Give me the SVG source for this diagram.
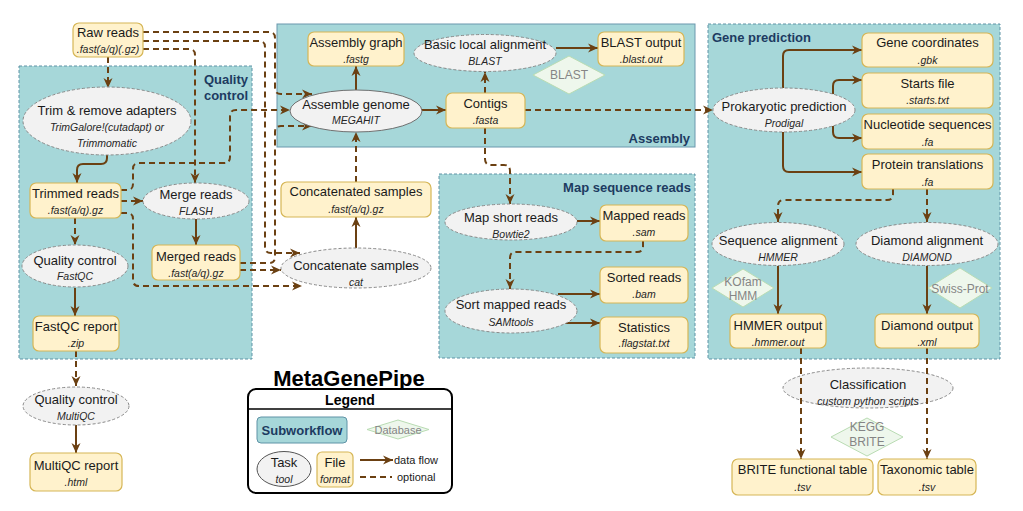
<svg xmlns="http://www.w3.org/2000/svg" width="1023" height="511" viewBox="0 0 1023 511">
<style>
.sw{fill:#a6d7d9;stroke:#5f93a6;stroke-width:1;stroke-dasharray:3 2}
.box{fill:#fff2cc;stroke:#d6b656;stroke-width:1.2}
.task{fill:#f2f2f2;stroke:#8a8a8a;stroke-width:1;stroke-dasharray:3 2}
.db{fill:#eef7ec;stroke:#b9dcb3;stroke-width:1}
text{font-family:"Liberation Sans",Arial,sans-serif;font-size:13px;fill:#1a1a1a;text-anchor:middle}
.s{font-size:10.5px;font-style:italic;fill:#262626}
.ttl{font-weight:bold;fill:#1d3b61}
.dbt{fill:#858585;font-size:12px}
.e{stroke:#6b4012;stroke-width:2;fill:none}
.d{stroke-dasharray:6 4}
</style>
<defs>
<marker id="a" markerUnits="userSpaceOnUse" markerWidth="11" markerHeight="10" refX="10" refY="5" orient="auto"><path d="M0,0.5 L10,5 L0,9.5 L3,5 z" fill="#6b4012"/></marker>
</defs>

<g id="containers">
<g id="quality-control"><rect class="sw" x="19" y="66" width="233" height="293"/><text class="ttl" x="248" y="84" style="text-anchor:end">Quality</text><text class="ttl" x="248" y="100" style="text-anchor:end">control</text></g>
<g id="assembly"><rect class="sw" x="277" y="24" width="418" height="123" style="stroke-dasharray:none;stroke:#6a98ad"/><text class="ttl" x="690" y="143" style="text-anchor:end">Assembly</text></g>
<g id="map-sequence-reads"><rect class="sw" x="439" y="174" width="256" height="184"/><text class="ttl" x="691" y="192" style="text-anchor:end">Map sequence reads</text></g>
<g id="gene-prediction"><rect class="sw" x="708" y="24" width="292" height="335"/><text class="ttl" x="712" y="42" style="text-anchor:start">Gene prediction</text></g>
</g>

<g id="classification"><ellipse class="task" cx="868" cy="388" rx="85" ry="20"/><text x="868" y="389">Classification</text><text class="s" x="868" y="405">custom python scripts</text></g>

<g id="connectors">
<path class="e d" marker-end="url(#a)" d="M108,57 V88"/>
<path class="e" marker-end="url(#a)" d="M107,155 V158 Q107,164 101,164 H83 Q77,164 77,170 V183"/>
<path class="e d" marker-end="url(#a)" d="M75,218 V245"/>
<path class="e" marker-end="url(#a)" d="M75,288 V316"/>
<path class="e d" marker-end="url(#a)" d="M76,351 V386"/>
<path class="e" marker-end="url(#a)" d="M76,425 V453"/>
<path class="e d" marker-end="url(#a)" d="M143,32 H269 Q275,32 275,38 V88 Q275,94 281,94 H312"/>
<path class="e d" marker-end="url(#a)" d="M143,41 H259 Q265,41 265,47 V247 Q265,253 271,253 H300"/>
<path class="e d" marker-end="url(#a)" d="M143,49 H189 Q195,49 195,55 V183"/>
<path class="e d" marker-end="url(#a)" d="M121,190 H127 Q133,190 133,184 V169 Q133,163 139,163 H224 Q230,163 230,157 V116 Q230,110 236,110 H290"/>
<path class="e d" marker-end="url(#a)" d="M121,201 H143"/>
<path class="e d" marker-end="url(#a)" d="M121,213 H127 Q133,213 133,219 V280 Q133,286 139,286 H302"/>
<path class="e" marker-end="url(#a)" d="M196,219 V245"/>
<path class="e d" marker-end="url(#a)" d="M240,263 H269 Q275,263 275,257 V132 Q275,126 281,126 H312"/>
<path class="e d" marker-end="url(#a)" d="M240,270 H281"/>
<path class="e" marker-end="url(#a)" d="M356,248 V217"/>
<path class="e d" marker-end="url(#a)" d="M356,182 V132"/>
<path class="e" marker-end="url(#a)" d="M356,90 V66"/>
<path class="e" marker-end="url(#a)" d="M422,110 H446"/>
<path class="e d" marker-end="url(#a)" d="M485,93 V72"/>
<path class="e" marker-end="url(#a)" d="M556,48 H598"/>
<path class="e d" marker-end="url(#a)" d="M525,110 H713"/>
<path class="e d" marker-end="url(#a)" d="M485,128 V159 Q485,165 491,165 H504 Q510,165 510,171 V204"/>
<path class="e" marker-end="url(#a)" d="M577,221 H600"/>
<path class="e d" marker-end="url(#a)" d="M643,241 V246 Q643,252 637,252 H516 Q510,252 510,258 V289"/>
<path class="e" marker-end="url(#a)" d="M558,294 H600"/>
<path class="e" marker-end="url(#a)" d="M558,323 H600"/>
<path class="e" marker-end="url(#a)" d="M783,88 V56 Q783,50 789,50 H862"/>
<path class="e" marker-end="url(#a)" d="M833,94 V86 Q833,80 839,80 H862"/>
<path class="e" marker-end="url(#a)" d="M833,126 V132 Q833,138 839,138 H862"/>
<path class="e" marker-end="url(#a)" d="M783,132 V166 Q783,172 789,172 H862"/>
<path class="e d" marker-end="url(#a)" d="M893,189 V194 Q893,200 887,200 H784 Q778,200 778,206 V222"/>
<path class="e d" marker-end="url(#a)" d="M927,189 V222"/>
<path class="e" marker-end="url(#a)" d="M778,266 V314"/>
<path class="e" marker-end="url(#a)" d="M927,266 V314"/>
<path class="e d" marker-end="url(#a)" d="M801,348 V459"/>
<path class="e d" marker-end="url(#a)" d="M927,348 V459"/>
</g>

<g id="raw-reads"><rect class="box" x="73" y="23" width="70" height="34" rx="6"/><text x="108" y="37">Raw reads</text><text class="s" x="108" y="53">.fast(a/q)(.gz)</text></g>
<g id="trim"><ellipse class="task" cx="107" cy="121" rx="84" ry="34"/><text x="107" y="115">Trim &amp; remove adapters</text><text class="s" x="107" y="131">TrimGalore!(cutadapt) or</text><text class="s" x="107" y="147">Trimmomatic</text></g>
<g id="trimmed-reads"><rect class="box" x="30" y="183" width="91" height="35" rx="6"/><text x="75.5" y="198">Trimmed reads</text><text class="s" x="75.5" y="214">.fast(a/q).gz</text></g>
<g id="fastqc"><ellipse class="task" cx="75" cy="266" rx="53" ry="21"/><text x="75" y="265">Quality control</text><text class="s" x="75" y="280">FastQC</text></g>
<g id="fastqc-report"><rect class="box" x="33" y="316" width="86" height="35" rx="6"/><text x="76" y="331">FastQC report</text><text class="s" x="76" y="347">.zip</text></g>
<g id="multiqc"><ellipse class="task" cx="76" cy="406" rx="53" ry="19"/><text x="76" y="404">Quality control</text><text class="s" x="76" y="420">MultiQC</text></g>
<g id="multiqc-report"><rect class="box" x="30" y="453" width="92" height="38" rx="6"/><text x="76" y="470">MultiQC report</text><text class="s" x="76" y="486">.html</text></g>
<g id="merge-reads"><ellipse class="task" cx="196" cy="201" rx="53" ry="18"/><text x="196" y="199">Merge reads</text><text class="s" x="196" y="215">FLASH</text></g>
<g id="merged-reads"><rect class="box" x="152" y="245" width="88" height="35" rx="6"/><text x="196" y="261">Merged reads</text><text class="s" x="196" y="277">.fast(a/q).gz</text></g>

<g id="assembly-graph"><rect class="box" x="308" y="32" width="96" height="34" rx="6"/><text x="356" y="47">Assembly graph</text><text class="s" x="356" y="63">.fastg</text></g>
<g id="assemble-genome"><ellipse cx="356" cy="111" rx="66" ry="21" style="fill:#f2f2f2;stroke:#707070;stroke-width:1"/><text x="356" y="109">Assemble genome</text><text class="s" x="356" y="124">MEGAHIT</text></g>
<g id="contigs"><rect class="box" x="446" y="93" width="79" height="35" rx="6"/><text x="485.5" y="108">Contigs</text><text class="s" x="485.5" y="124">.fasta</text></g>
<g id="blast"><ellipse class="task" cx="485" cy="53" rx="71" ry="18.5"/><text x="485" y="49">Basic local alignment</text><text class="s" x="485" y="65">BLAST</text></g>
<g id="blast-output"><rect class="box" x="598" y="32" width="86" height="34" rx="6"/><text x="641" y="47">BLAST output</text><text class="s" x="641" y="63">.blast.out</text></g>
<g id="blast-db"><path class="db" d="M533,75 L569,56 L605,75 L569,94 Z"/><text class="dbt" x="569" y="79">BLAST</text></g>

<g id="concatenated-samples"><rect class="box" x="281" y="182" width="150" height="35" rx="6"/><text x="356" y="196">Concatenated samples</text><text class="s" x="356" y="213">.fast(a/q).gz</text></g>
<g id="concatenate-samples"><ellipse class="task" cx="356" cy="268" rx="75" ry="20"/><text x="356" y="270">Concatenate samples</text><text class="s" x="356" y="286">cat</text></g>

<g id="map-short-reads"><ellipse class="task" cx="511" cy="222" rx="66" ry="18"/><text x="511" y="222">Map short reads</text><text class="s" x="511" y="238">Bowtie2</text></g>
<g id="mapped-reads"><rect class="box" x="600" y="205" width="88" height="36" rx="6"/><text x="644" y="220">Mapped reads</text><text class="s" x="644" y="236">.sam</text></g>
<g id="sort-mapped-reads"><ellipse class="task" cx="511" cy="311" rx="66" ry="22"/><text x="511" y="309">Sort mapped reads</text><text class="s" x="511" y="326">SAMtools</text></g>
<g id="sorted-reads"><rect class="box" x="600" y="267" width="88" height="36" rx="6"/><text x="644" y="282">Sorted reads</text><text class="s" x="644" y="298">.bam</text></g>
<g id="statistics"><rect class="box" x="600" y="317" width="88" height="36" rx="6"/><text x="644" y="332">Statistics</text><text class="s" x="644" y="347">.flagstat.txt</text></g>

<g id="prodigal"><ellipse class="task" cx="784" cy="110" rx="71" ry="22"/><text x="784" y="111">Prokaryotic prediction</text><text class="s" x="784" y="127">Prodigal</text></g>
<g id="gene-coordinates"><rect class="box" x="862" y="33" width="131" height="34" rx="6"/><text x="927.5" y="47">Gene coordinates</text><text class="s" x="927.5" y="64">.gbk</text></g>
<g id="starts-file"><rect class="box" x="862" y="73" width="131" height="35" rx="6"/><text x="927.5" y="88">Starts file</text><text class="s" x="927.5" y="104">.starts.txt</text></g>
<g id="nucleotide-sequences"><rect class="box" x="862" y="114" width="131" height="35" rx="6"/><text x="927.5" y="129">Nucleotide sequences</text><text class="s" x="927.5" y="146">.fa</text></g>
<g id="protein-translations"><rect class="box" x="862" y="154" width="131" height="35" rx="6"/><text x="927.5" y="169">Protein translations</text><text class="s" x="927.5" y="186">.fa</text></g>
<g id="sequence-alignment"><ellipse class="task" cx="778" cy="244" rx="66" ry="21.5"/><text x="778" y="245">Sequence alignment</text><text class="s" x="778" y="261">HMMER</text></g>
<g id="diamond-alignment"><ellipse class="task" cx="927" cy="244" rx="71" ry="21.5"/><text x="927" y="245">Diamond alignment</text><text class="s" x="927" y="261">DIAMOND</text></g>
<g id="kofam-db"><path class="db" d="M712,288 L743,269 L774,288 L743,307 Z"/><text class="dbt" x="743" y="286">KOfam</text><text class="dbt" x="743" y="300">HMM</text></g>
<g id="swissprot-db"><path class="db" d="M928,288 L960,268 L992,288 L960,308 Z"/><text class="dbt" x="960" y="293">Swiss-Prot</text></g>
<g id="hmmer-output"><rect class="box" x="730" y="314" width="96" height="34" rx="6"/><text x="778" y="330">HMMER output</text><text class="s" x="778" y="346">.hmmer.out</text></g>
<g id="diamond-output"><rect class="box" x="875" y="314" width="104" height="34" rx="6"/><text x="927" y="330">Diamond output</text><text class="s" x="927" y="346">.xml</text></g>
<g id="kegg-brite-db"><path class="db" d="M831,437 L867,418 L903,437 L867,456 Z"/><text class="dbt" x="867" y="431">KEGG</text><text class="dbt" x="867" y="446">BRITE</text></g>
<g id="brite-table"><rect class="box" x="732" y="459" width="141" height="36" rx="6"/><text x="802.5" y="474">BRITE functional table</text><text class="s" x="802.5" y="491">.tsv</text></g>
<g id="taxonomic-table"><rect class="box" x="878" y="459" width="98" height="36" rx="6"/><text x="927" y="474">Taxonomic table</text><text class="s" x="927" y="491">.tsv</text></g>

<g id="title"><text x="349" y="386" style="font-size:22px;font-weight:bold;fill:#000">MetaGenePipe</text></g>
<g id="legend">
<rect x="248" y="389" width="204" height="104" rx="8" style="fill:#fff;stroke:#000;stroke-width:2"/>
<line x1="248" y1="409" x2="452" y2="409" style="stroke:#000;stroke-width:1.5"/>
<text x="350" y="405" style="font-size:14px;font-weight:bold;fill:#000">Legend</text>
<rect class="sw" x="257" y="417" width="90" height="26" rx="4" style="stroke-dasharray:none"/>
<text class="ttl" x="302" y="435">Subworkflow</text>
<path class="db" d="M367,429.5 L398,420 L429,429.5 L398,439 Z"/><text class="dbt" x="398" y="433.5" style="font-size:11px">Database</text>
<ellipse cx="284" cy="469" rx="27" ry="17.5" style="fill:#f2f2f2;stroke:#555;stroke-width:1"/><text x="284" y="467">Task</text><text class="s" x="284" y="483">tool</text>
<rect class="box" x="317" y="452" width="36" height="35" rx="5"/><text x="335" y="467">File</text><text class="s" x="335" y="483">format</text>
<path class="e" marker-end="url(#a)" d="M360,460 H393"/><text x="394" y="464" style="font-size:11px;text-anchor:start">data flow</text>
<path class="e d" d="M360,477 H392"/><text x="397" y="481" style="font-size:11px;text-anchor:start">optional</text>
</g>
</svg>
